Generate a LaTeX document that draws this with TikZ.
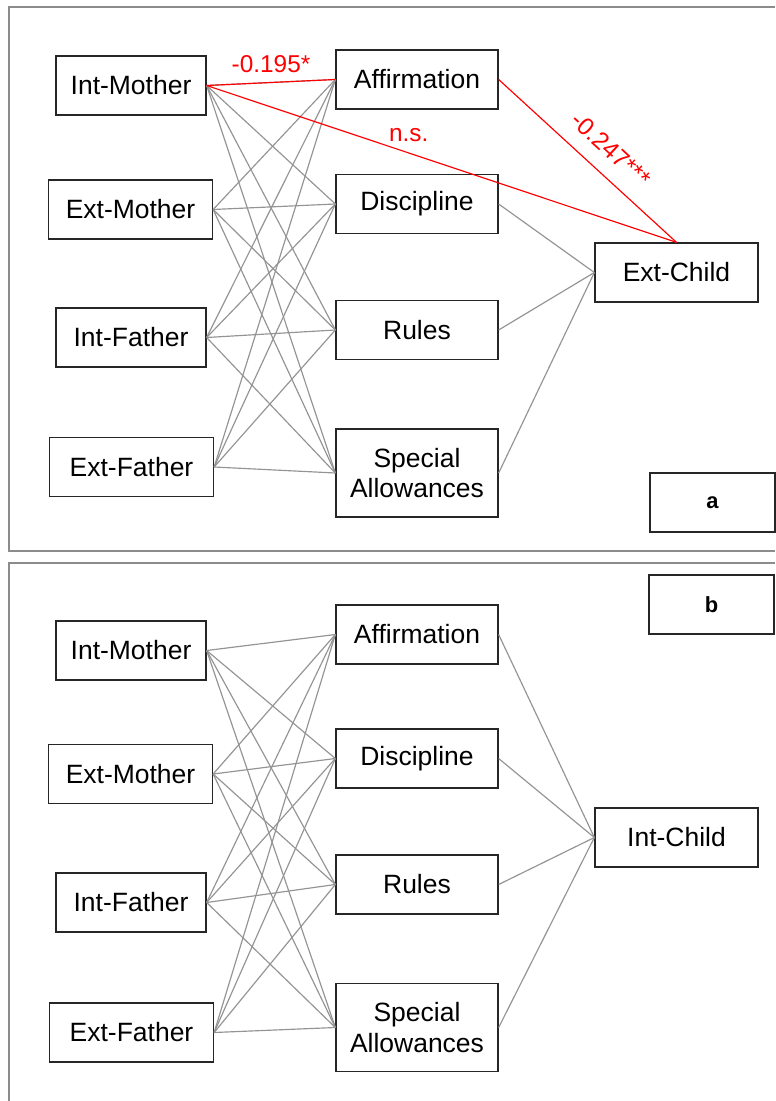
\documentclass[tikz,border=0pt]{standalone}
\usepackage{fontspec}
\setmainfont{Liberation Sans}
\begin{document}
\begin{tikzpicture}[
    x=0.03cm,
    y=-0.03cm,
    font=\fontsize{22.6}{26.3}\selectfont,
    panel/.style={
        draw=black!45,
        line width=1.6pt
    },
    varbox/.style={
        draw=black!85,
        line width=1.1pt,
        minimum height=1.77cm,
        align=center,
        inner sep=2pt
    },
    intparent/.style={varbox, minimum width=4.50cm},
    extparent/.style={varbox, minimum width=4.92cm},
    practice/.style={varbox, minimum width=4.86cm},
    childbox/.style={varbox, minimum width=4.89cm},
    tagbox/.style={
        varbox,
        minimum width=3.75cm,
        font=\fontsize{18.7}{21}\selectfont\bfseries
    },
    coef/.style={
        text=red,
        inner sep=0pt,
        font=\fontsize{20.8}{24}\selectfont
    },
    link/.style={draw=black!42, line width=1pt},
    sig/.style={draw=red, line width=1pt}
]
    \useasboundingbox (0,0) rectangle (775,1101);

    \draw[panel] (775,7) -- (9,7) -- (9,551) -- (775,551);
    \draw[panel] (775,563) -- (9,563) -- (9,1101);

    \node[intparent] (imA) at (131,85.5) {Int-Mother};
    \node[extparent] (emA) at (130.5,209.5) {Ext-Mother};
    \node[intparent] (ifA) at (131,337.5) {Int-Father};
    \node[extparent] (efA) at (131.5,467) {Ext-Father};

    \node[practice] (affA) at (417,79.5) {Affirmation};
    \node[practice] (disA) at (417,204) {Discipline};
    \node[practice] (rulA) at (417,330) {Rules};
    \node[practice, minimum height=2.64cm] (spaA) at (417,473)
        {Special\\Allowances};

    \node[childbox] (ecA) at (676.5,272.5) {Ext-Child};
    \node[tagbox] (tagA) at (712.5,502.5) {a};

    \foreach \p in {imA,emA,ifA,efA}
        \foreach \q in {affA,disA,rulA,spaA}
            \draw[link] (\p.east) -- (\q.west);
    \foreach \q in {disA,rulA,spaA}
        \draw[link] (\q.east) -- (ecA.west);

    \draw[sig] (imA.east) -- (affA.west)
        node[coef,midway,above=7.7pt] {-0.195*};
    \draw[sig] (imA.east) -- (ecA.north)
        node[coef,pos=0.43,above=9.4pt] {n.s.};
    \draw[sig] (affA.east) -- (ecA.north)
        node[coef,pos=0.54,sloped,above=12.8pt] {-0.247***};

    \node[intparent] (imB) at (131,650.5) {Int-Mother};
    \node[extparent] (emB) at (130.5,774) {Ext-Mother};
    \node[intparent] (ifB) at (131,902.5) {Int-Father};
    \node[extparent] (efB) at (131.5,1032.5) {Ext-Father};

    \node[practice] (affB) at (417,634.5) {Affirmation};
    \node[practice] (disB) at (417,758.5) {Discipline};
    \node[practice] (rulB) at (417,884.5) {Rules};
    \node[practice, minimum height=2.64cm] (spaB) at (417,1027.5)
        {Special\\Allowances};

    \node[childbox] (icB) at (676.5,837.5) {Int-Child};
    \node[tagbox] (tagB) at (711.5,604.5) {b};

    \foreach \p in {imB,emB,ifB,efB}
        \foreach \q in {affB,disB,rulB,spaB}
            \draw[link] (\p.east) -- (\q.west);
    \foreach \q in {affB,disB,rulB,spaB}
        \draw[link] (\q.east) -- (icB.west);
\end{tikzpicture}
\end{document}
